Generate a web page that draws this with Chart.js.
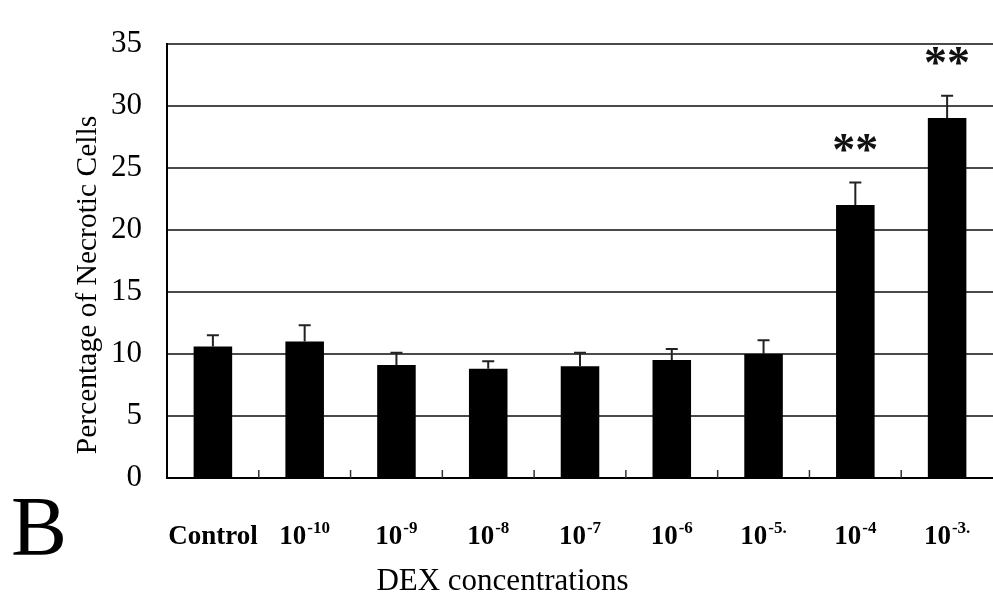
<!DOCTYPE html>
<html lang="en">
<head>
    <meta charset="UTF-8">
    <title>DEX necrotic cells</title>
    <script src="https://cdn.jsdelivr.net/npm/chart.js"></script>
    <style>
        html, body { margin: 0; padding: 0; background: #fff; }
        #wrap { width: 993px; height: 603px; }
    </style>
</head>
<body>
    <div id="wrap"><canvas id="barChart"></canvas></div>

    <script>
        // values
        const labelBase = ['Control', '10', '10', '10', '10', '10', '10', '10', '10'];
        const labelExp = ['', '-10', '-9', '-8', '-7', '-6', '-5.', '-4', '-3.'];
        const necrotic = [10.6, 11.0, 9.1, 8.8, 9.0, 9.5, 10.0, 22.0, 29.0];
        const errUp = [0.9, 1.3, 1.0, 0.6, 1.1, 0.9, 1.1, 1.8, 1.8];
        const signif = ['', '', '', '', '', '', '', '**', '**'];
        const yTicks = [0, 5, 10, 15, 20, 25, 30, 35];

        const serif = "'Liberation Serif', 'Times New Roman', serif";

        const extras = {
            id: 'extras',
            afterDatasetsDraw(chart) {
                const ctx = chart.ctx;
                const x = chart.scales.x;
                const y = chart.scales.y;
                const area = chart.chartArea;
                ctx.save();

                // small upward ticks between categories
                ctx.strokeStyle = '#333';
                ctx.lineWidth = 1.5;
                for (let i = 1; i < necrotic.length; i++) {
                    const bx = (x.getPixelForValue(i - 1) + x.getPixelForValue(i)) / 2;
                    ctx.beginPath();
                    ctx.moveTo(bx, area.bottom);
                    ctx.lineTo(bx, area.bottom - 8);
                    ctx.stroke();
                }

                // error bars (upper only)
                ctx.strokeStyle = '#222';
                ctx.lineWidth = 2;
                necrotic.forEach((v, i) => {
                    const cx = x.getPixelForValue(i);
                    const y0 = y.getPixelForValue(v);
                    const y1 = y.getPixelForValue(v + errUp[i]);
                    ctx.beginPath();
                    ctx.moveTo(cx, y0);
                    ctx.lineTo(cx, y1);
                    ctx.moveTo(cx - 6, y1);
                    ctx.lineTo(cx + 6, y1);
                    ctx.stroke();
                });

                // significance stars
                ctx.fillStyle = '#111';
                ctx.font = 'bold 46px ' + serif;
                ctx.textAlign = 'center';
                ctx.textBaseline = 'alphabetic';
                signif.forEach((s, i) => {
                    if (!s) return;
                    const cx = x.getPixelForValue(i);
                    const top = y.getPixelForValue(necrotic[i] + errUp[i]);
                    ctx.fillText(s, cx, top - 18);
                });

                // category labels with superscripts
                ctx.fillStyle = '#000';
                ctx.textAlign = 'left';
                const baseFont = 'bold 27px ' + serif;
                const expFont = 'bold 17px ' + serif;
                labelBase.forEach((b, i) => {
                    ctx.font = baseFont;
                    const wb = ctx.measureText(b).width;
                    ctx.font = expFont;
                    const we = labelExp[i] ? ctx.measureText(labelExp[i]).width + 1 : 0;
                    const left = x.getPixelForValue(i) - (wb + we) / 2;
                    const baseY = area.bottom + 66;
                    ctx.font = baseFont;
                    ctx.fillText(b, left, baseY);
                    if (labelExp[i]) {
                        ctx.font = expFont;
                        ctx.fillText(labelExp[i], left + wb + 1, baseY - 11);
                    }
                });

                // axis titles
                ctx.font = '31px ' + serif;
                ctx.textAlign = 'center';
                ctx.textBaseline = 'middle';
                ctx.fillText('DEX concentrations', chart.width / 2 + 6, 582);

                ctx.save();
                ctx.translate(88, 285);
                ctx.rotate(-Math.PI / 2);
                ctx.font = '29.5px ' + serif;
                ctx.fillText('Percentage of Necrotic Cells', 0, 0);
                ctx.restore();

                // panel letter
                ctx.font = '84px ' + serif;
                ctx.textAlign = 'left';
                ctx.textBaseline = 'alphabetic';
                ctx.fillText('B', 11, 555);

                ctx.restore();
            }
        };

        const ctxBar = document.getElementById('barChart').getContext('2d');
        new Chart(ctxBar, {
            type: 'bar',
            data: {
                labels: labelBase.map((b, i) => b + labelExp[i]),
                datasets: [{
                    data: necrotic,
                    backgroundColor: '#000',
                    borderWidth: 0,
                    categoryPercentage: 1,
                    barPercentage: 0.42
                }]
            },
            options: {
                responsive: true,
                maintainAspectRatio: false,
                animation: false,
                layout: { padding: { top: 23, right: 0, left: 0, bottom: 0 } },
                plugins: {
                    legend: { display: false },
                    tooltip: { enabled: false }
                },
                scales: {
                    x: {
                        grid: { display: false },
                        border: { display: true, color: '#000', width: 2 },
                        ticks: { display: false },
                        afterFit(scale) { scale.height = 125; }
                    },
                    y: {
                        min: 0,
                        max: 35,
                        afterBuildTicks(scale) {
                            scale.ticks = yTicks.map(v => ({ value: v }));
                        },
                        grid: { color: '#4a4a4a', lineWidth: 2, drawTicks: false },
                        border: { display: true, color: '#000', width: 2 },
                        ticks: {
                            padding: 25,
                            color: '#000',
                            font: { family: serif, size: 31 }
                        },
                        afterFit(scale) { scale.width = 167; }
                    }
                }
            },
            plugins: [extras]
        });
    </script>
</body>
</html>
